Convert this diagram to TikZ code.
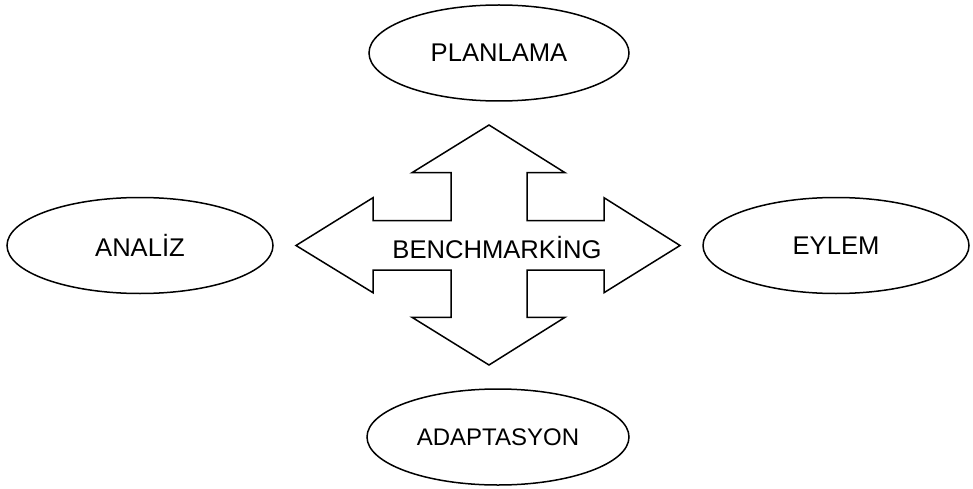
\documentclass[tikz,border=0pt]{standalone}
\usepackage{fontspec}
\setmainfont{Liberation Sans}
\usetikzlibrary{shapes.geometric}

\tikzset{
    stage/.style = {ellipse, draw, line width = 0.75pt, inner sep = 0pt,
        minimum width = 132pt, minimum height = 48pt,
        font = \fontsize{12.8}{15}\selectfont},
}

\begin{document}
\begin{tikzpicture}[x = 0.5pt, y = 0.5pt]
    \useasboundingbox (0, 0) rectangle (973, 488);

    % four-way arrow, traced from the top tip clockwise
    \draw [line width = 0.75pt, line join = miter]
        (489, 363) -- (565, 315.3) -- (527, 315.3) -- (527, 267.3)
        -- (604, 267.3) -- (604, 290.3) -- (680, 242.5) -- (604, 195.3)
        -- (604, 218) -- (527, 218) -- (527, 170.7) -- (565, 170.7)
        -- (489, 123) -- (412, 170.7) -- (451, 170.7) -- (451, 218)
        -- (373, 218) -- (373, 195.3) -- (296, 242.5) -- (373, 290.3)
        -- (373, 267.3) -- (451, 267.3) -- (451, 315.3) -- (412, 315.3)
        -- cycle;
    \node (bench) [font = \fontsize{12.8}{15}\selectfont] at (497, 240.5) {BENCHMARKİNG};

    \node (planlama)   [stage, minimum width = 130pt] at (499, 435)   {PLANLAMA};
    \node (analiz)     [stage, minimum width = 133pt] at (140, 242.5) {ANALİZ};
    \node (eylem)      [stage, minimum width = 133pt] at (836, 242.5) {EYLEM};
    \node (adaptasyon) [stage, minimum width = 131pt, font = \fontsize{12}{14}\selectfont] at (498, 51) {ADAPTASYON};
\end{tikzpicture}
\end{document}
